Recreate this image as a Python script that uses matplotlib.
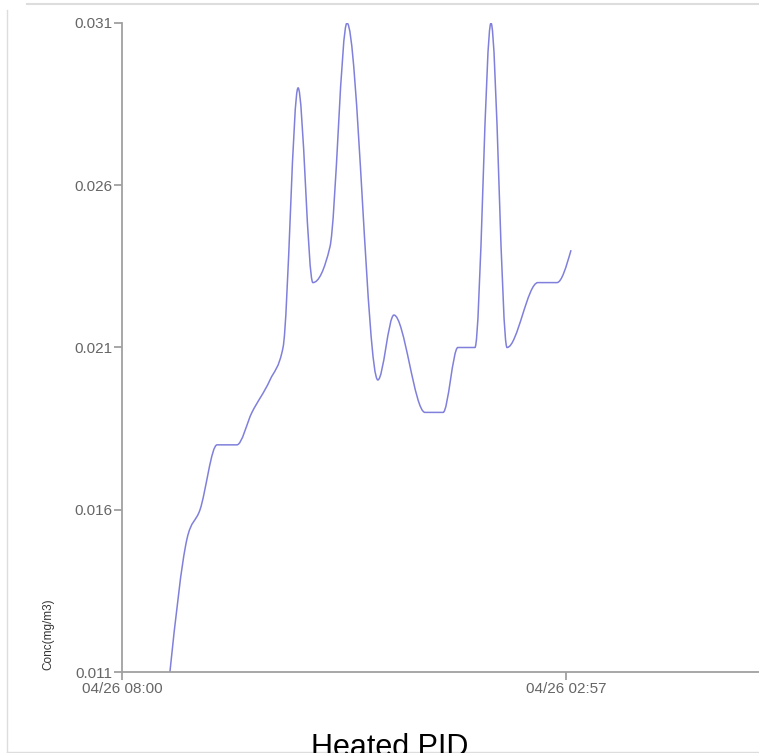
import numpy as np
import matplotlib
matplotlib.use("Agg")
import matplotlib.pyplot as plt
from matplotlib.path import Path
from matplotlib.patches import PathPatch
from matplotlib.lines import Line2D

# --- Data (minutes since start, concentration in mg/m3) ---
minutes = [19.1, 25.9, 31.1, 37.9, 45.8, 51.8, 59.0, 64.2, 70.2, 76.1, 82.9,
           89.7, 102.0, 108.4, 120.8, 128.0, 133.9, 140.7, 147.1, 153.5,
           165.8, 173.4, 179.0]
conc = [0.0110, 0.0151, 0.0160, 0.0180, 0.0180, 0.0190, 0.0200, 0.0210,
        0.0290, 0.0230, 0.0241, 0.0310, 0.0200, 0.0220, 0.0190, 0.0190,
        0.0210, 0.0210, 0.0310, 0.0210, 0.0230, 0.0230, 0.0240]
x_tick_pos = [0, 177]
x_tick_labels = ["04/26 08:00", "04/26 02:57"]
y_ticks = [0.011, 0.016, 0.021, 0.026, 0.031]
y_tick_labels = ["0.011", "0.016", "0.021", "0.026", "0.031"]

plt.rcParams['font.family'] = ['Liberation Sans', 'DejaVu Sans']


def monotone_path(xs, ys):
    """Bezier path like d3.curveMonotoneX (built from the data points)."""
    xs = np.asarray(xs, float)
    ys = np.asarray(ys, float)
    n = len(xs)
    h = np.diff(xs)
    s = np.diff(ys) / h
    t = np.zeros(n)
    for i in range(1, n - 1):
        p = (s[i - 1] * h[i] + s[i] * h[i - 1]) / (h[i - 1] + h[i])
        t[i] = (np.sign(s[i - 1]) + np.sign(s[i])) * min(abs(s[i - 1]), abs(s[i]), 0.5 * abs(p))
    t[0] = (3 * s[0] - t[1]) / 2
    t[-1] = (3 * s[-1] - t[-2]) / 2
    verts = [(xs[0], ys[0])]
    codes = [Path.MOVETO]
    for i in range(n - 1):
        dx = h[i] / 3
        verts += [(xs[i] + dx, ys[i] + dx * t[i]),
                  (xs[i + 1] - dx, ys[i + 1] - dx * t[i + 1]),
                  (xs[i + 1], ys[i + 1])]
        codes += [Path.CURVE4] * 3
    return Path(verts, codes)


W, H = 759, 753
fig = plt.figure(figsize=(W / 100, H / 100), dpi=100)
fig.patch.set_facecolor('white')

ax = fig.add_axes([122 / W, (H - 672) / H, (W - 122) / W, (672 - 23) / H])
ax.add_patch(PathPatch(monotone_path(minutes, conc), fill=False,
                       edgecolor='#8080dc', linewidth=1.1, transform=ax.transData))

ax.set_xlim(0, (W - 122) * 177 / 444)
ax.set_ylim(0.011, 0.031)
ax.set_xticks(x_tick_pos)
ax.set_xticklabels(x_tick_labels)
ax.set_yticks(y_ticks)
ax.set_yticklabels(y_tick_labels)

for side in ['top', 'right']:
    ax.spines[side].set_visible(False)
for side in ['left', 'bottom']:
    ax.spines[side].set_color('#a0a0a0')
    ax.spines[side].set_linewidth(1.3)
ax.tick_params(colors='#a0a0a0', labelcolor='#666666', labelsize=11,
               length=6, width=1.3, pad=1)
ax.set_facecolor('none')

# y axis label
fig.text(48 / W, (H - 670) / H, "Conc(mg/m3)", rotation=90, ha='center',
         va='bottom', fontsize=8.5, color='#333333')

# title, partly cut off at the bottom edge
fig.text(390 / W, (H - 756) / H, "Heated PID", ha='center', va='baseline',
         fontsize=22, color='black')

# card border
border = '#dddddd'
fig.add_artist(Line2D([7 / W, 7 / W], [(H - 752) / H, (H - 10) / H],
                      transform=fig.transFigure, color=border, lw=1))
fig.add_artist(Line2D([27 / W, 1], [(H - 4) / H, (H - 4) / H],
                      transform=fig.transFigure, color=border, lw=1.5))
fig.add_artist(Line2D([7 / W, 1], [(H - 752) / H, (H - 752) / H],
                      transform=fig.transFigure, color=border, lw=1))

fig.savefig("out.png", dpi=100)
